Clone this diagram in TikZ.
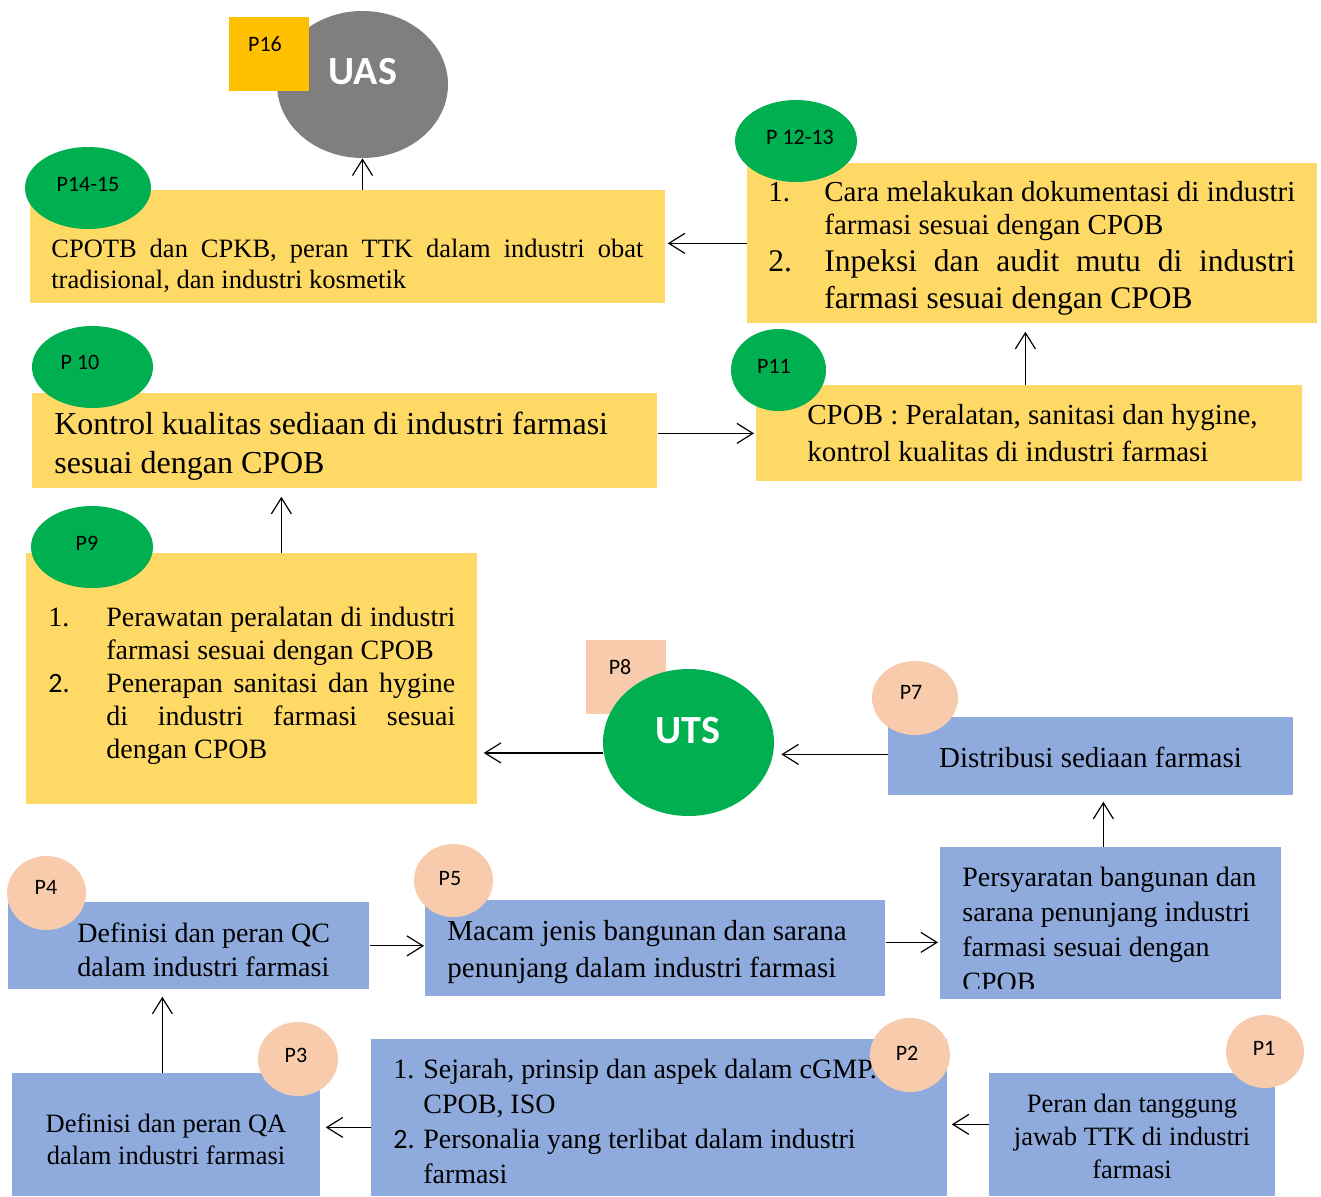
\documentclass[tikz,border=0pt]{standalone}
\usepackage{fontspec}
\setmainfont{Liberation Serif}
\newfontfamily\labfont{Carlito}
\usetikzlibrary{arrows.meta,shapes.geometric,calc}

\definecolor{boxyellow}{RGB}{255,217,102}
\definecolor{boxblue}{RGB}{143,170,220}
\definecolor{badgegreen}{RGB}{0,176,80}
\definecolor{badgepeach}{RGB}{248,203,173}
\definecolor{examgray}{RGB}{127,127,127}
\definecolor{tagyellow}{RGB}{255,192,0}

\tikzset{every picture/.style={line width=0.75pt}}
\tikzset{
  ybox/.style={fill=boxyellow, inner sep=0pt, anchor=north west},
  bbox/.style={fill=boxblue, inner sep=0pt, anchor=north west},
  exam/.style={ellipse, inner sep=0pt, minimum width=171pt, minimum height=147pt},
  arr/.style={-{Straight Barb[length=16pt,width=20pt]}, line width=1.2pt},
  txt/.style={inner sep=0pt, anchor=north west, align=left},
  lab/.style={inner sep=0pt, font=\labfont\fontsize{22}{26}\selectfont},
  examlab/.style={inner sep=0pt, text=white, font=\labfont\bfseries\fontsize{40}{46}\selectfont},
}

\begin{document}
\begin{tikzpicture}[x=1pt,y=1pt,yscale=-1,xscale=1]
	\useasboundingbox (0,0) rectangle (1321,1196);

	%Shape: Rectangle [P14-15]
	\node[ybox, minimum width=635pt, minimum height=113pt] (p1415) at (30,190) {};
	%Shape: Rectangle [P12-13]
	\node[ybox, minimum width=570pt, minimum height=160pt] (p1213) at (747,163) {};
	%Shape: Rectangle [P11]
	\node[ybox, minimum width=546pt, minimum height=96pt] (p11) at (756,385) {};
	%Shape: Rectangle [P10]
	\node[ybox, minimum width=625pt, minimum height=95pt] (p10) at (32,393) {};
	%Shape: Rectangle [P9]
	\node[ybox, minimum width=451pt, minimum height=251pt] (p9) at (26,553) {};
	%Shape: Rectangle [P7]
	\node[bbox, minimum width=405pt, minimum height=78pt] (p7) at (888,717) {};
	%Shape: Rectangle [P6]
	\node[bbox, minimum width=341pt, minimum height=152pt] (p6) at (940,847) {};
	%Shape: Rectangle [P5]
	\node[bbox, minimum width=460pt, minimum height=96pt] (p5) at (425,900) {};
	%Shape: Rectangle [P4]
	\node[bbox, minimum width=361pt, minimum height=87pt] (p4) at (8,902) {};
	%Shape: Rectangle [P3]
	\node[bbox, minimum width=308pt, minimum height=123pt] (p3) at (12,1073) {};
	%Shape: Rectangle [P2]
	\node[bbox, minimum width=576pt, minimum height=157pt] (p2) at (371,1039) {};
	%Shape: Rectangle [P1]
	\node[bbox, minimum width=286pt, minimum height=123pt] (p1) at (989,1073) {};

	%Shape: Ellipse [UAS]
	\node[exam, fill=examgray] (uas) at (362.5,84.5) {};
	\fill[tagyellow] (229,17) rectangle (309,91);
	%Shape: Ellipse [UTS]
	\fill[badgepeach] (586,640) rectangle (666,714);
	\node[exam, fill=badgegreen] (uts) at (688.5,742.5) {};

	%Straight Lines
	\draw[arr] (p1415.north -| uas.south) -- (uas.south);
	\draw[arr, shorten >=2pt] (p1213.west) -- (p1415.east |- p1213.west);
	\draw[arr, shorten >=8pt] ([xshift=-4pt]p11.north) coordinate (a11) -- (a11 |- p1213.south);
	\draw[arr, shorten >=2pt] (p10.east |- p11.west) -- (p11.west);
	\draw[arr, shorten >=8pt] ([xshift=29.5pt]p9.north) coordinate (a9) -- (a9 |- p10.south);
	\draw[arr, shorten >=6pt] (uts.187) -- (p9.east |- uts.187);
	\draw[arr, shorten >=7pt] ($(p7.west)+(0,-2)$) coordinate (a7) -- (uts.east |- a7);
	\draw[arr, shorten >=6pt] ([xshift=-7.5pt]p6.north) coordinate (a6) -- (a6 |- p7.south);
	\draw[arr, shorten >=2pt] ($(p5.east)+(0,-6)$) coordinate (a5) -- (p6.west |- a5);
	\draw[arr, shorten >=1pt] (p4.east) -- (p5.west |- p4.east);
	\draw[arr, shorten >=7pt] ([xshift=-4pt]p3.north) coordinate (a3) -- (a3 |- p4.south);
	\draw[arr, shorten >=5pt] ($(p2.west)+(0,9.5)$) coordinate (a2) -- (p3.east |- a2);
	\draw[arr, shorten >=4pt] ($(p1.west)+(0,-10.5)$) coordinate (a1) -- (p2.east |- a1);

	% Text Node
	\node[txt, font=\fontsize{26.5}{31}\selectfont] (t1415) at (51,235.3) {\strut\makebox[592pt][s]{CPOTB dan CPKB, peran TTK dalam industri obat}\\tradisional, dan industri kosmetik};
	% Text Node
	\node[txt, font=\fontsize{29}{33}\selectfont] (t1213a) at (768,178.4) {\strut\makebox[56pt][l]{1.}\makebox[471pt][s]{Cara melakukan dokumentasi di industri}\\\hspace*{56pt}farmasi sesuai dengan CPOB};
	% Text Node
	\node[txt, font=\fontsize{31.5}{37}\selectfont] (t1213b) at (768,245.6) {\strut\makebox[56pt][l]{2.}\makebox[471pt][s]{Inpeksi dan audit mutu di industri}\\\hspace*{56pt}farmasi sesuai dengan CPOB};
	% Text Node
	\node[txt, font=\fontsize{29}{37}\selectfont] (t11) at (807,398.1) {\strut CPOB : Peralatan, sanitasi dan hygine,\\kontrol kualitas di industri farmasi};
	% Text Node
	\node[txt, font=\fontsize{32}{39}\selectfont] (t10) at (54,407.2) {\strut Kontrol kualitas sediaan di industri farmasi\\sesuai dengan CPOB};
	% Text Node
	\node[txt, font=\fontsize{28}{33}\selectfont] (t9a) at (48,602.9) {\strut\makebox[58pt][l]{1.}\makebox[349pt][s]{Perawatan peralatan di industri}\\\hspace*{58pt}farmasi sesuai dengan CPOB};
	% Text Node
	\node[txt, font=\fontsize{28}{33}\selectfont] (t9b) at (48,668.9) {\strut\makebox[58pt][l]{\labfont 2.}\makebox[349pt][s]{Penerapan sanitasi dan hygine}\\\hspace*{58pt}\makebox[349pt][s]{di industri farmasi sesuai}\\\hspace*{58pt}dengan CPOB};
	% Text Node
	\node[inner sep=0pt, anchor=base, font=\fontsize{29}{35}\selectfont] (t7) at (1090.5,767) {Distribusi sediaan farmasi};
	% Text Node
	\begin{scope}
	\clip (940,847) rectangle (1281,988);
	\node[txt, font=\fontsize{28}{35}\selectfont] (t6) at (962,861.5) {\strut Persyaratan bangunan dan\\sarana penunjang industri\\farmasi sesuai dengan\\CPOB};
	\end{scope}
	% Text Node
	\node[txt, font=\fontsize{29}{37}\selectfont] (t5) at (447,914.1) {\strut Macam jenis bangunan dan sarana\\penunjang dalam industri farmasi};
	% Text Node
	\node[txt, font=\fontsize{28}{34}\selectfont] (t4) at (77,918.2) {\strut Definisi dan peran QC\\dalam industri farmasi};
	% Text Node
	\node[txt, anchor=north, align=center, font=\fontsize{26.5}{32}\selectfont] (t3) at (166,1109.6) {\strut Definisi dan peran QA\\dalam industri farmasi};
	% Text Node
	\node[txt, font=\fontsize{28}{35}\selectfont] (t2) at (393,1053.5) {\strut\makebox[30pt][l]{1.}Sejarah, prinsip dan aspek dalam cGMP.\\\hspace*{30pt}CPOB, ISO\\\makebox[30pt][l]{\labfont 2.}Personalia yang terlibat dalam industri\\\hspace*{30pt}farmasi};
	% Text Node
	\node[txt, anchor=north, align=center, font=\fontsize{26.5}{33}\selectfont] (t1) at (1132,1088.9) {\strut Peran dan tanggung\\jawab TTK di industri\\farmasi};

	%Shape: Ellipse [badges]
	\fill[badgegreen] (88,188) ellipse [x radius=63, y radius=41];
	\fill[badgegreen] (796,141) ellipse [x radius=61, y radius=41];
	\fill[badgegreen] (778.5,370) ellipse [x radius=47.5, y radius=41];
	\fill[badgegreen] (92.5,367) ellipse [x radius=60.5, y radius=41];
	\fill[badgegreen] (92,547) ellipse [x radius=61, y radius=41];
	\fill[badgepeach] (915,698) ellipse [x radius=43, y radius=37];
	\fill[badgepeach] (453.5,880.5) ellipse [x radius=39.5, y radius=36.5];
	\fill[badgepeach] (46.5,893) ellipse [x radius=39.5, y radius=37];
	\fill[badgepeach] (298,1059) ellipse [x radius=40, y radius=37];
	\fill[badgepeach] (910,1055) ellipse [x radius=40, y radius=37];
	\fill[badgepeach] (1265,1051.5) ellipse [x radius=39, y radius=36.5];

	% Text Node
	\node[examlab] (luas) at (363,72) {UAS};
	\node[examlab] (luts) at (688,731) {UTS};
	\node[lab] (l16) at (265,44) {P16};
	\node[lab] (l1415) at (88,184) {P14-15};
	\node[lab] (l1213) at (800,137) {P 12-13};
	\node[lab] (l11) at (774,366) {P11};
	\node[lab] (l10) at (80,362) {P 10};
	\node[lab] (l9) at (87,543) {P9};
	\node[lab] (l8) at (620,667) {P8};
	\node[lab] (l7) at (911,692) {P7};
	\node[lab] (l5) at (450,879) {P5};
	\node[lab] (l4) at (46,887) {P4};
	\node[lab] (l3) at (296,1055) {P3};
	\node[lab] (l2) at (907,1053) {P2};
	\node[lab] (l1) at (1264,1048) {P1};

\end{tikzpicture}
\end{document}
